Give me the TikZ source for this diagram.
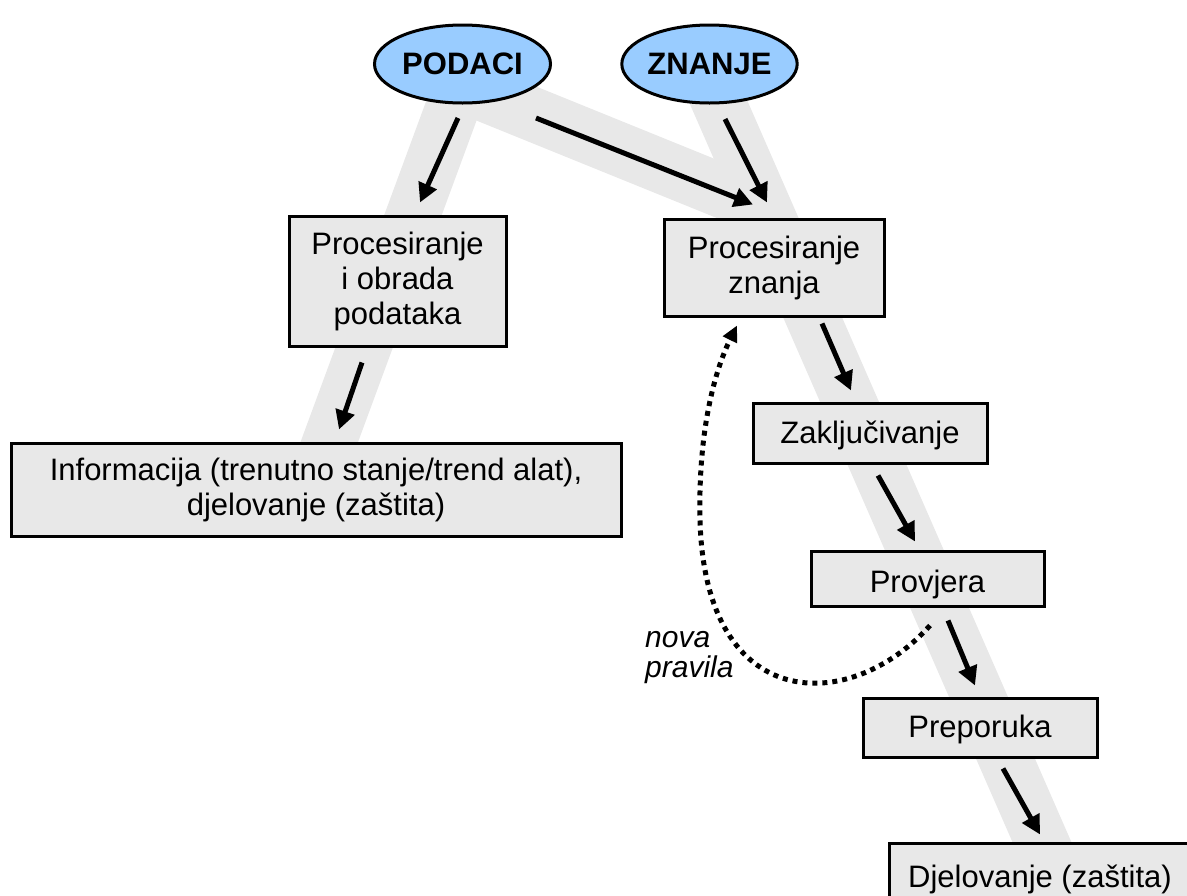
\documentclass[tikz,border=0pt]{standalone}
\usepackage{fontspec}
\setmainfont{Liberation Sans}
\usetikzlibrary{arrows.meta,calc,shapes.geometric}
\definecolor{bandgray}{RGB}{232,232,232}
\definecolor{boxgray}{RGB}{232,232,232}
\definecolor{ellblue}{RGB}{153,204,255}
\begin{document}
\begin{tikzpicture}[x=1pt,y=-1pt,
  band/.style={line width=54pt, draw=bandgray, line cap=butt},
  box/.style={draw=black, line width=3pt, fill=boxgray, rectangle, inner sep=0pt, align=center, font=\fontsize{31}{35}\selectfont},
  oval/.style={ellipse, draw=black, line width=3pt, fill=ellblue, inner sep=0pt, font=\fontsize{31}{35}\selectfont\bfseries},
  arr/.style={line width=5pt, -{Triangle[length=19pt,width=19pt]}},
  dotarr/.style={line width=5pt, dash pattern=on 5pt off 5pt, -{Triangle[length=16pt,width=15pt]}},
  lbl/.style={inner sep=0pt, align=left, font=\fontsize{30}{30}\selectfont\itshape}
]
\clip (0,0) rectangle (1187,895);
% background bands
\draw[band] (469,63) -- (324.5,455);
\draw[band] (470,88.8) -- (760,206.4);
\draw[band] (701.4,63) -- (1076,920);
% nodes
\node[oval, minimum width=176pt, minimum height=78pt] (podaci) at (462.5,64) {PODACI};
\node[oval, minimum width=173pt, minimum height=78pt] (znanje) at (709.5,64) {ZNANJE};
\node[box, minimum width=217pt, minimum height=130pt] (procp) at (397.5,281) {Procesiranje\\i obrada\\podataka};
\node[box, minimum width=610pt, minimum height=93pt] (info) at (316,489.5) {Informacija (trenutno stanje/trend alat),\\djelovanje (zaštita)};
\node[box, minimum width=220pt, minimum height=97pt] (procz) at (774,267.5) {Procesiranje\\znanja};
\node[box, minimum width=234pt, minimum height=60pt, text height=26.5pt, text depth=6.5pt] (zak) at (870,433) {Zaključivanje};
\node[box, minimum width=233pt, minimum height=55pt, text height=35pt, text depth=6.5pt] (prov) at (927.5,578.5) {Provjera};
\node[box, minimum width=234pt, minimum height=59pt, text height=25.5pt, text depth=6.5pt] (prep) at (980,727.5) {Preporuka};
\node[box, minimum width=302pt, minimum height=72pt] (djel) at (1040,879) {Djelovanje (zaštita)};
\node[lbl, anchor=base west] (nova) at (645,677) {nova\\pravila};
% arrows
\draw[arr] ($(podaci.center)+(-4.5,54)$) -- ($(procp.north)+(22.5,-12)$);
\draw[arr] ($(podaci.center)+(73.5,54)$) -- ($(procz.north)+(-21,-13)$);
\draw[arr] ($(znanje.center)+(15.5,55)$) -- ($(procz.north)+(-7,-15)$);
\draw[arr] ($(procp.south)+(-35.5,15)$) -- ($(info.north)+(23,-12)$);
\draw[arr] ($(procz.south)+(48,6)$) -- ($(zak.north)+(-19,-11)$);
\draw[arr] ($(zak.south)+(8,11)$) -- ($(prov.north)+(-12.5,-8)$);
\draw[arr] ($(prov.south)+(20.5,13)$) -- ($(prep.north)+(-5,-11)$);
\draw[arr] ($(prep.south)+(23,10)$) -- ($(djel.north)+(0,-7)$);
% feedback
\draw[dotarr] ($(prov.south)+(2.5,18)$) .. controls (850,715) and (705,715) .. (700,520) .. controls (698,430) and (715,370) .. ($(procz.south)+(-37,8)$);
\end{tikzpicture}
\end{document}
